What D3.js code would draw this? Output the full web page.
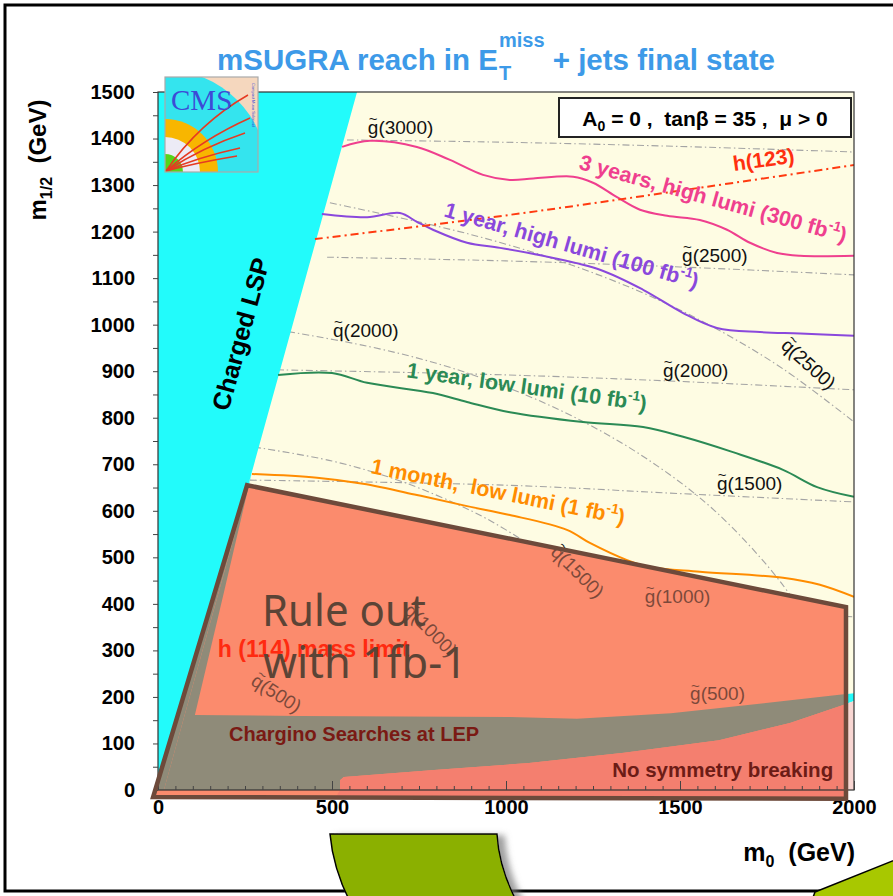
<!DOCTYPE html>
<html>
<head>
<meta charset="utf-8">
<script src="https://cdn.jsdelivr.net/npm/d3@7"></script>
<style>
  body { margin: 0; background: #fff; }
  svg { display: block; }
  text { font-family: "Liberation Sans", Arial, Helvetica, sans-serif; white-space: pre; }
</style>
</head>
<body>
<svg id="chart" width="893" height="896"></svg>
<script>
// ---------- axis ticks ----------
const m0Ticks  = [0, 500, 1000, 1500, 2000];
const m12Ticks = [0, 100, 200, 300, 400, 500, 600, 700, 800, 900, 1000, 1100, 1200, 1300, 1400, 1500];

// ---------- 5 sigma reach contours [m0, m1/2] (GeV) ----------
const reach300fb = [[529,1382],[609,1395],[744,1382],[839,1354],[934,1322],[1011,1311],[1078,1314],[1193,1318],[1250,1305],[1319,1274],[1385,1247],[1463,1234],[1557,1225],[1635,1204],[1701,1176],[1779,1154],[1845,1148],[2000,1148]];
const reach100fb = [[471,1238],[601,1231],[695,1240],[744,1221],[790,1204],[888,1176],[983,1165],[1126,1145],[1270,1118],[1394,1075],[1509,1025],[1606,993],[1730,984],[1845,981],[2000,976]];
const reach10fb  = [[345,892],[500,896],[601,875],[790,853],[888,834],[1011,812],[1221,791],[1394,780],[1509,759],[1652,726],[1796,688],[1894,651],[2000,630]];
const reach1fb   = [[270,679],[457,671],[589,658],[744,634],[888,610],[1011,591],[1175,559],[1241,531],[1348,494],[1414,479],[1557,469],[1796,456],[1902,441],[2000,415]];

// ---------- Higgs mass contours ----------
const higgs123 = [[451,1184],[1011,1236],[1500,1288],[2000,1343]];
const higgs114 = [[141,260],[457,258],[744,247],[934,226],[1066,206],[1141,183],[1190,155]];

// ---------- iso-mass lines ----------
const gluino3000 = [[543,1397],[1000,1392],[1500,1383],[2000,1371]];
const gluino2500 = [[486,1145],[1000,1137],[1500,1124],[2000,1107]];
const gluino2000 = [[342,903],[1000,892],[1500,878],[2000,860]];
const gluino1500 = [[264,666],[1000,655],[1500,637],[2000,619]];
const gluino1000 = [[187,466],[1000,423],[1500,396],[2000,372]];
const gluino500  = [[129,221],[1000,200],[1500,188],[2000,176]];
const squark2500 = [[494,1262],[800,1212],[1000,1173],[1200,1125],[1400,1066],[1600,993],[1800,903],[2000,791]];
const squark2000 = [[374,985],[600,954],[800,917],[1000,866],[1200,800],[1400,714],[1600,600],[1800,436],[1900,312],[1970,172],[2000,0]];
const squark1500 = [[276,737],[500,707],[700,663],[900,600],[1000,559],[1100,510],[1200,450],[1300,374],[1400,269],[1450,192],[1490,86],[1500,0]];
const squark1000 = [[193,491],[400,458],[600,400],[700,357],[800,300],[900,218],[950,156],[990,70],[1000,0]];
const squark500  = [[106,244],[200,229],[300,200],[400,150],[450,109],[490,50],[500,0]];

// ---------- excluded / theoretically forbidden regions ----------
const chargedLSP    = [[0,0],[17,0],[150,360],[300,765],[440,1143],[572,1500],[0,1500]];
const lepLeftEdge   = [[17,0],[270,683]];
const lepInnerEdge  = [[270,683],[188,420],[106,161]];
const lepTop        = [[106,161],[408,159],[1011,157],[1204,153],[1474,165],[1747,187],[2000,208]];
const noEWSBTop     = [[523,0],[523,21],[534,28],[793,43],[1066,58],[1339,80],[1612,107],[1816,144],[1971,183],[2000,191]];
const ruledOut1fb   = [[256,655],[1977,393],[1977,-19],[-14,-15]];

const svg = d3.select("#chart");
const x = d3.scaleLinear().domain([0, 2000]).range([158, 854]);
const y = d3.scaleLinear().domain([0, 1500]).range([790, 92]);
const smooth = d3.line().x(d => x(d[0])).y(d => y(d[1])).curve(d3.curveCatmullRom.alpha(0.5));
const straight = d3.line().x(d => x(d[0])).y(d => y(d[1]));
const closed = pts => straight(pts) + "Z";

// ---------- defs ----------
const defs = svg.append("defs");
defs.append("clipPath").attr("id", "plotClip")
  .append("rect").attr("x", x(0)).attr("y", y(1500)).attr("width", x(2000) - x(0)).attr("height", y(0) - y(1500));
defs.append("clipPath").attr("id", "ruleClip")
  .append("path").attr("d", closed(ruledOut1fb));
defs.append("clipPath").attr("id", "logoClip")
  .append("rect").attr("width", 93).attr("height", 95);
const shadow = defs.append("filter").attr("id", "shadow").attr("x", "-20%").attr("y", "-20%").attr("width", "150%").attr("height", "150%");
shadow.append("feGaussianBlur").attr("in", "SourceAlpha").attr("stdDeviation", 3).attr("result", "b");
shadow.append("feOffset").attr("in", "b").attr("dx", 7).attr("dy", 2).attr("result", "o");
shadow.append("feFlood").attr("flood-color", "#777").attr("flood-opacity", 0.7).attr("result", "c");
shadow.append("feComposite").attr("in", "c").attr("in2", "o").attr("operator", "in").attr("result", "s");
const mg = shadow.append("feMerge");
mg.append("feMergeNode").attr("in", "s");
mg.append("feMergeNode").attr("in", "SourceGraphic");

// ---------- plot background ----------
const plot = svg.append("g").attr("clip-path", "url(#plotClip)");
plot.append("rect").attr("x", x(0)).attr("y", y(1500)).attr("width", x(2000) - x(0)).attr("height", y(0) - y(1500)).attr("fill", "#fefce3");

// shaded 1 fb-1 area (fill)
svg.append("path").attr("d", closed(ruledOut1fb)).attr("fill", "#fb8b6d");

// iso-mass lines
const isoLines = [gluino3000, gluino2500, gluino2000, gluino1500, gluino1000, gluino500,
                  squark2500, squark2000, squark1500, squark1000, squark500];
plot.selectAll("path.iso").data(isoLines).join("path").attr("class", "iso")
  .attr("d", smooth).attr("fill", "none").attr("stroke", "#a4a4a4").attr("stroke-width", 1.1)
  .attr("stroke-dasharray", "7,3,1.5,3");

// iso-mass labels
const isoLabels = [
  {p: "g", m: "3000", at: [603, 1410], rot: 0},
  {p: "g", m: "2500", at: [1506, 1135], rot: 0},
  {p: "g", m: "2000", at: [1451, 888], rot: 0},
  {p: "g", m: "1500", at: [1606, 645], rot: 0},
  {p: "g", m: "1000", at: [1399, 402], rot: 0},
  {p: "g", m: "500",  at: [1529, 193], rot: 0},
  {p: "q", m: "2000", at: [503, 974], rot: 0},
  {p: "q", m: "2500", at: [1787, 952], rot: 42},
  {p: "q", m: "1500", at: [1126, 509], rot: 45},
  {p: "q", m: "1000", at: [704, 383], rot: 45},
  {p: "q", m: "500",  at: [264, 228], rot: 33}
];
const isoG = svg.append("g");
isoLabels.forEach(d => {
  const g = isoG.append("g").attr("transform", `translate(${x(d.at[0])},${y(d.at[1])}) rotate(${d.rot})`);
  g.append("text").attr("font-size", 19).attr("fill", "#111").text(d.p + "(" + d.m + ")");
  g.append("text").attr("font-size", 15).attr("fill", "#111").attr("x", 5.3).attr("y", -9.5)
    .attr("text-anchor", "middle").text("~");
});
// tint of the 1 fb-1 area over the lines and labels
svg.append("path").attr("d", closed(ruledOut1fb)).attr("fill", "#fb8b6d").attr("opacity", 0.45);

// regions as seen outside the shaded area
plot.append("path").attr("d", closed(chargedLSP)).attr("fill", "#22fbfb");
plot.append("path").attr("d", closed(lepLeftEdge.concat(lepInnerEdge.slice(1), lepTop.slice(1), noEWSBTop.slice().reverse())))
  .attr("fill", "#22fbfb");
plot.append("path").attr("d", closed(noEWSBTop.concat([[2000, 0]]))).attr("fill", "#f8d6d2");

// same regions inside the shaded area
const inside = svg.append("g").attr("clip-path", "url(#ruleClip)");
inside.append("path").attr("d", closed(chargedLSP.filter(d => d[1] < 1500).concat([[0, 800]]))).attr("fill", "#8f8b79");
inside.append("path").attr("d", closed(lepLeftEdge.concat(lepInnerEdge.slice(1), lepTop.slice(1), noEWSBTop.slice().reverse())))
  .attr("fill", "#8f8b79");
inside.append("path").attr("d", closed(noEWSBTop.concat([[2000, 0], [2000, -30], [500, -30]]))).attr("fill", "#f47f6f");

// ---------- reach contours ----------
const curves = [
  {pts: reach300fb, color: "#ef3f8e"},
  {pts: reach100fb, color: "#8a48dc"},
  {pts: reach10fb,  color: "#2b8a55"},
  {pts: reach1fb,   color: "#ff8c00"}
];
plot.selectAll("path.reach").data(curves).join("path").attr("class", "reach")
  .attr("d", d => smooth(d.pts)).attr("fill", "none").attr("stroke", d => d.color).attr("stroke-width", 2);
plot.append("path").attr("d", smooth(higgs123)).attr("fill", "none").attr("stroke", "#ff3a10")
  .attr("stroke-width", 2).attr("stroke-dasharray", "8,4,2,4");
plot.append("path").attr("d", smooth(higgs114)).attr("fill", "none").attr("stroke", "#ff2a10").attr("stroke-width", 2);

// ---------- contour labels ----------
const reachLabels = [
  {txt: "3 years, high lumi (300 fb", color: "#ef3f8e", at: [1207, 1335], rot: 15.5},
  {txt: "1 year, high lumi (100 fb",  color: "#8a48dc", at: [819, 1233], rot: 16},
  {txt: "1 year, low lumi (10 fb",    color: "#2b8a55", at: [713, 887], rot: 8},
  {txt: "1 month,  low lumi (1 fb",   color: "#ff8c00", at: [609, 681], rot: 11.5}
];
reachLabels.forEach(d => {
  const t = svg.append("text").attr("transform", `translate(${x(d.at[0])},${y(d.at[1])}) rotate(${d.rot})`)
    .attr("font-size", 21.5).attr("font-weight", "bold").attr("fill", d.color);
  t.append("tspan").text(d.txt);
  t.append("tspan").attr("font-size", 14).attr("dy", -9).text("-1");
  t.append("tspan").attr("dy", 9).text(")");
});
svg.append("text").attr("transform", `translate(${x(1655)},${y(1330)}) rotate(-8)`)
  .attr("font-size", 21).attr("font-weight", "bold").attr("fill", "#ff3010").text("h(123)");
const regionLabels = [
  {txt: "h (114) mass limit",       color: "#ff2a10", size: 23, at: [172, 286]},
  {txt: "Chargino Searches at LEP", color: "#7a1a14", size: 20, at: [204, 105]},
  {txt: "No symmetry breaking",     color: "#6c1c16", size: 20.5, at: [1305, 28]}
];
svg.selectAll("text.region").data(regionLabels).join("text").attr("class", "region")
  .attr("x", d => x(d.at[0])).attr("y", d => y(d.at[1]))
  .attr("font-size", d => d.size).attr("font-weight", "bold").attr("fill", d => d.color).text(d => d.txt);
svg.append("text").attr("transform", `translate(${x(262)},${y(975)}) rotate(-74.6)`)
  .attr("text-anchor", "middle").attr("font-size", 25).attr("font-weight", "bold").attr("fill", "#000")
  .text("Charged LSP");

// ---------- frame and axes ----------
svg.append("rect").attr("x", x(0)).attr("y", y(1500)).attr("width", x(2000) - x(0)).attr("height", y(0) - y(1500))
  .attr("fill", "none").attr("stroke", "#333").attr("stroke-width", 1.2);
const yAxis = svg.append("g").attr("transform", `translate(${x(0)},0)`)
  .call(d3.axisLeft(y).tickValues(m12Ticks).tickFormat(d3.format("d")).tickSize(5).tickPadding(18));
const yMinor = svg.append("g").attr("transform", `translate(${x(0)},0)`)
  .call(d3.axisLeft(y).tickValues(m12Ticks.slice(1).map(v => v - 50)).tickSize(5).tickFormat(""));
const xAxis = svg.append("g").attr("transform", `translate(0,${y(0)})`)
  .call(d3.axisBottom(x).tickValues(m0Ticks).tickFormat(d3.format("d")).tickSize(-9).tickPadding(10));
const xMinor = svg.append("g").attr("transform", `translate(0,${y(0)})`)
  .call(d3.axisBottom(x).tickValues(d3.range(50, 2000, 50)).tickSize(-4).tickFormat(""));
[yAxis, yMinor, xAxis, xMinor].forEach(a => {
  a.select(".domain").remove();
  a.selectAll("line").attr("stroke", "#444");
  a.selectAll("text").attr("font-family", "Liberation Sans, Arial, sans-serif")
    .attr("font-size", 20).attr("font-weight", "bold").attr("fill", "#000");
});

// ---------- outline of the 1 fb-1 area and its note ----------
svg.append("path").attr("d", closed(ruledOut1fb)).attr("fill", "none").attr("stroke", "#6d4a3b")
  .attr("stroke-width", 4.5).attr("stroke-linejoin", "miter");
const note = svg.append("g").attr("fill", "#5b4436").attr("font-size", 44);
note.append("text").attr("x", 262).attr("y", 626).attr("textLength", 164).attr("lengthAdjust", "spacingAndGlyphs")
  .style("font-family", "Noto Sans, DejaVu Sans, sans-serif").text("Rule out");
note.append("text").attr("x", 263).attr("y", 678).attr("textLength", 204).attr("lengthAdjust", "spacingAndGlyphs")
  .style("font-family", "Noto Sans, DejaVu Sans, sans-serif").text("with 1fb-1");

// ---------- CMS logo ----------
const logo = svg.append("g").attr("transform", "translate(165,77)");
const lg = logo.append("g").attr("clip-path", "url(#logoClip)");
lg.append("rect").attr("width", 93).attr("height", 95).attr("fill", "#f5d7be");
[[102, "#34e4ee"], [53, "#f8b600"], [35, "#ecebf6"], [18, "#55d41a"]].forEach(r =>
  lg.append("circle").attr("cx", 0).attr("cy", 95).attr("r", r[0]).attr("fill", r[1]));
[[[83, 18], [34, 46]], [[85, 41], [38, 62]], [[80, 56], [38, 70]], [[75, 71], [34, 80]], [[72, 79], [30, 86]]].forEach(t =>
  lg.append("path").attr("d", `M1,94 Q${t[1][0]},${t[1][1]} ${t[0][0]},${t[0][1]}`)
    .attr("fill", "none").attr("stroke", "#e63a22").attr("stroke-width", 1.5));
lg.append("text").attr("x", 6).attr("y", 33)
  .style("font-family", "Liberation Serif, DejaVu Serif, serif")
  .attr("font-size", 29).attr("fill", "#3d4bd6").text("CMS");
lg.append("text").attr("transform", "translate(87,6) rotate(90)").attr("font-size", 4).attr("fill", "#3d4bd6")
  .text("Compact Muon Solenoid");
logo.append("rect").attr("width", 93).attr("height", 95).attr("fill", "none").attr("stroke", "#aaa").attr("stroke-width", 1.2);

// ---------- title ----------
const title = svg.append("g").attr("fill", "#3d9ae8").attr("font-weight", "bold");
const t1 = title.append("text").attr("y", 70).attr("font-size", 29.5).text("mSUGRA reach in E");
const w1 = t1.node().getComputedTextLength();
const tSub = title.append("text").attr("y", 80).attr("font-size", 20).text("T");
const tSup = title.append("text").attr("y", 47).attr("font-size", 20).text("miss");
const wSup = tSup.node().getComputedTextLength();
const t2 = title.append("text").attr("y", 70).attr("font-size", 29.5).text(" + jets final state");
const w2 = t2.node().getComputedTextLength();
const total = w1 + 1 + wSup + w2;
const x0 = 496 - total / 2;
t1.attr("x", x0); tSub.attr("x", x0 + w1 + 1); tSup.attr("x", x0 + w1 + 1); t2.attr("x", x0 + w1 + 1 + wSup);

// ---------- parameter box ----------
svg.append("rect").attr("x", 559).attr("y", 98).attr("width", 292).attr("height", 39)
  .attr("fill", "#fff").attr("stroke", "#222").attr("stroke-width", 2);
const par = svg.append("text").attr("x", 705).attr("y", 126).attr("text-anchor", "middle")
  .attr("font-size", 21).attr("font-weight", "bold").attr("fill", "#000");
par.append("tspan").text("A");
par.append("tspan").attr("font-size", 14).attr("dy", 5).text("0");
par.append("tspan").attr("dy", -5).text(" = 0 ,  tan\u03B2 = 35 ,  \u03BC > 0");

// ---------- axis titles ----------
const yt = svg.append("text").attr("transform", "translate(46,160) rotate(-90)").attr("text-anchor", "middle")
  .attr("font-size", 24).attr("font-weight", "bold").attr("fill", "#000");
yt.append("tspan").text("m");
yt.append("tspan").attr("font-size", 16).attr("dy", 6).text("1/2");
yt.append("tspan").attr("dy", -6).text("  (GeV)");
const xt = svg.append("text").attr("x", 855).attr("y", 861).attr("text-anchor", "end")
  .attr("font-size", 25).attr("font-weight", "bold").attr("fill", "#000");
xt.append("tspan").text("m");
xt.append("tspan").attr("font-size", 16).attr("dy", 6).text("0");
xt.append("tspan").attr("dy", -6).text("  (GeV)");

// ---------- slide frame and arrows ----------
svg.append("rect").attr("x", 5).attr("y", 5).attr("width", 900).attr("height", 886)
  .attr("fill", "none").attr("stroke", "#000").attr("stroke-width", 3);
svg.append("path").attr("d", "M330,834 L497,834 Q499,868 517,902 L350,902 Q333,868 330,834 Z")
  .attr("fill", "#8bb000").attr("stroke", "#000").attr("stroke-width", 1.5).attr("filter", "url(#shadow)");
svg.append("path").attr("d", "M815,892 L900,858 L900,900 L812,900 Z")
  .attr("fill", "#a8c800").attr("stroke", "#000").attr("stroke-width", 1.5);
</script>
</body>
</html>
